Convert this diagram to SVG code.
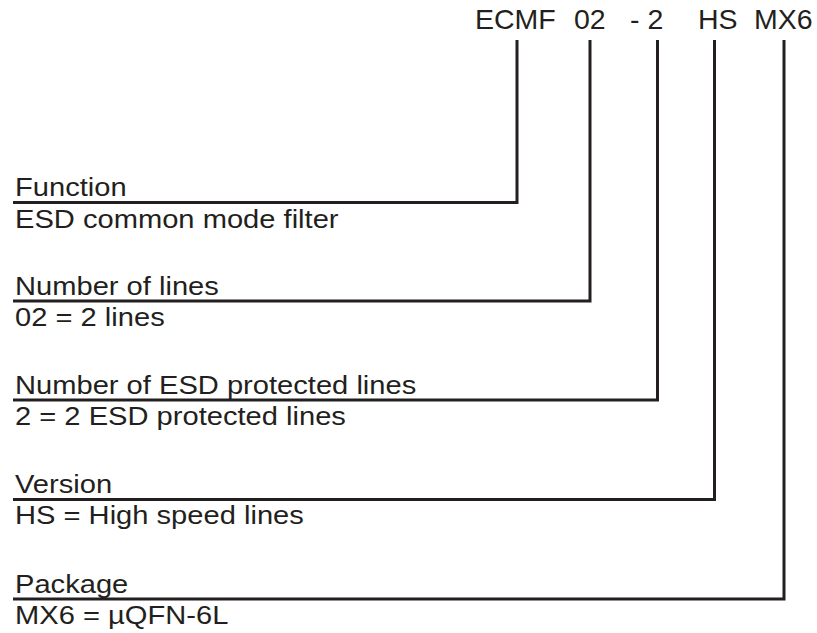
<svg xmlns="http://www.w3.org/2000/svg" width="817" height="633" viewBox="0 0 817 633">
<style>
text{font-family:"Liberation Sans",Arial,sans-serif;fill:#231f20}
.code{font-size:28.5px}
.lbl{font-size:26px}
.con{fill:none;stroke:#231f20;stroke-width:3;stroke-linejoin:miter}
</style>
<rect width="817" height="633" fill="#fff"/>
<g id="code">
<text class="code" x="475" y="29">ECMF</text>
<text class="code" x="574" y="29">02</text>
<text class="code" x="630" y="29">- 2</text>
<text class="code" x="698" y="29">HS</text>
<text class="code" x="754" y="29">MX6</text>
</g>
<g id="connectors">
<path class="con" d="M517,40 V202.5 H13"/>
<path class="con" d="M590,40 V301 H13"/>
<path class="con" d="M657.5,40 V400 H13"/>
<path class="con" d="M714.5,40 V499.5 H13"/>
<path class="con" d="M784,40 V599 H13"/>
</g>
<g id="function">
<text class="lbl" transform="matrix(1.12 0 0 1 15 196)">Function</text>
<text class="lbl" transform="matrix(1.12 0 0 1 15 228)">ESD common mode filter</text>
</g>
<g id="lines">
<text class="lbl" transform="matrix(1.12 0 0 1 15 295)">Number of lines</text>
<text class="lbl" transform="matrix(1.12 0 0 1 15 326)">02 = 2 lines</text>
</g>
<g id="esd">
<text class="lbl" transform="matrix(1.12 0 0 1 15 394)">Number of ESD protected lines</text>
<text class="lbl" transform="matrix(1.12 0 0 1 15 425)">2 = 2 ESD protected lines</text>
</g>
<g id="version">
<text class="lbl" transform="matrix(1.12 0 0 1 15 493)">Version</text>
<text class="lbl" transform="matrix(1.12 0 0 1 15 524)">HS = High speed lines</text>
</g>
<g id="package">
<text class="lbl" transform="matrix(1.12 0 0 1 15 593)">Package</text>
<text class="lbl" transform="matrix(1.12 0 0 1 15 624)">MX6 = µQFN-6L</text>
</g>
</svg>
